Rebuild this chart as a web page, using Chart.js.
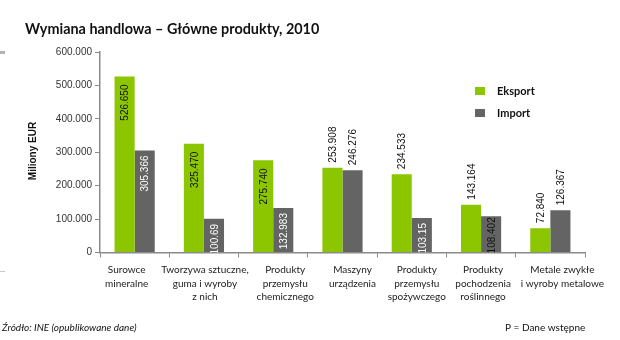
<!DOCTYPE html>
<html>
<head>
<meta charset="utf-8">
<script src="https://cdn.jsdelivr.net/npm/chart.js@4.4.1/dist/chart.umd.min.js"></script>
<style>
  html, body { margin: 0; padding: 0; background: #fff; }
  #wrap { position: relative; width: 620px; height: 340px; }
</style>
</head>
<body>
<div id="wrap"><canvas id="c" width="620" height="340"></canvas></div>
<script>
// categories, multi-line like the original
const categories = [
  ['Surowce', 'mineralne'],
  ['Tworzywa sztuczne,', 'guma i wyroby', 'z nich'],
  ['Produkty', 'przemysłu', 'chemicznego'],
  ['Maszyny', 'urządzenia'],
  ['Produkty', 'przemysłu', 'spożywczego'],
  ['Produkty', 'pochodzenia', 'roślinnego'],
  ['Metale zwykłe', 'i wyroby metalowe']
];
const eksport = [526650, 325470, 275740, 253908, 234533, 143164, 72840];
const importy = [305366, 100690, 132983, 246276, 103150, 108402, 126367];
// labels as shown in the picture (two are cut off by the axis there)
const eksportLabels = ['526.650', '325.470', '275.740', '253.908', '234.533', '143.164', '72.840'];
const importLabels  = ['305.366', '100.69', '132.983', '246.276', '103.15', '108.402', '126.367'];
const yTicks = [0, 100000, 200000, 300000, 400000, 500000, 600000];

// where each value label sits: inside end or outside end
const eksportPlace = ['in', 'in', 'in', 'out', 'out', 'out', 'out'];
const importPlace  = ['in', 'in', 'in', 'out', 'in', 'in', 'out'];
const importInColor = ['#fff', '#fff', '#fff', '#111', '#fff', '#111', '#111'];
const importInGap = [5, 5, 5, 0, 5, 1, 0];
// excel does not centre the wrapped category labels exactly
const catLabelShift = [-8, 1, 12, 10, 5, 2, 12];

const GREEN = '#8cc600';
const GRAY = '#646464';
const AXIS = '#8a8a8a';
const fmt = v => v === 0 ? '0' : String(v).replace(/\B(?=(\d{3})+(?!\d))/g, '.');

const valueLabels = {
  id: 'valueLabels',
  afterDatasetsDraw(chart) {
    const ctx = chart.ctx;
    const area = chart.chartArea;
    ctx.save();
    ctx.beginPath();
    ctx.rect(area.left, 0, area.right - area.left, area.bottom);
    ctx.clip();
    ctx.font = '10px "Liberation Sans", Arial, sans-serif';
    ctx.textBaseline = 'middle';
    chart.data.datasets.forEach((ds, di) => {
      const meta = chart.getDatasetMeta(di);
      meta.data.forEach((bar, i) => {
        const isExp = di === 0;
        const text = isExp ? eksportLabels[i] : importLabels[i];
        const place = isExp ? eksportPlace[i] : importPlace[i];
        ctx.save();
        if (place === 'in') {
          ctx.translate(bar.x, bar.y + (isExp ? 8 : importInGap[i]));
          ctx.rotate(-Math.PI / 2);
          ctx.textAlign = 'right';
          ctx.fillStyle = isExp ? '#111' : importInColor[i];
        } else {
          ctx.translate(bar.x, bar.y - 5);
          ctx.rotate(-Math.PI / 2);
          ctx.textAlign = 'left';
          ctx.fillStyle = '#111';
        }
        ctx.fillText(text, 0, 1);
        ctx.restore();
      });
    });
    ctx.restore();
  }
};

const decorations = {
  id: 'decorations',
  afterDraw(chart) {
    const ctx = chart.ctx;
    const xs = chart.scales.x;
    ctx.save();
    ctx.textBaseline = 'middle';

    // category labels
    ctx.textAlign = 'center';
    ctx.fillStyle = '#222';
    ctx.font = '10px Lato, "Open Sans", sans-serif';
    categories.forEach((lines, i) => {
      const cx = xs.getPixelForValue(i) + catLabelShift[i];
      lines.forEach((ln, k) => ctx.fillText(ln, cx, chart.chartArea.bottom + 17.5 + k * 13.3));
    });

    // title
    ctx.fillStyle = '#111';
    ctx.textAlign = 'left';
    ctx.font = 'bold 14.4px Lato, "Open Sans", sans-serif';
    ctx.fillText('Wymiana handlowa – Główne produkty, 2010', 25, 29);

    // y axis title
    ctx.save();
    ctx.translate(33, 151);
    ctx.rotate(-Math.PI / 2);
    ctx.textAlign = 'center';
    ctx.font = 'bold 10px "Liberation Sans", Arial, sans-serif';
    ctx.fillText('Miliony EUR', 0, 0);
    ctx.restore();

    // legend
    ctx.font = 'bold 11px Lato, "Open Sans", sans-serif';
    ctx.fillStyle = GREEN;
    ctx.fillRect(475, 87, 10, 8);
    ctx.fillStyle = GRAY;
    ctx.fillRect(475, 109, 10, 8);
    ctx.fillStyle = '#111';
    ctx.fillText('Eksport', 497, 91);
    ctx.fillText('Import', 497, 113);

    // footer
    ctx.font = 'italic 10px Lato, "Open Sans", sans-serif';
    ctx.fillText('Źródło: INE (opublikowane dane)', 2, 328);
    ctx.font = '10px Lato, "Open Sans", sans-serif';
    ctx.fillText('P = Dane wstępne', 505, 328);

    // small crop leftovers on the left edge of the original
    ctx.fillStyle = '#b4b4b4';
    ctx.fillRect(0, 51, 5, 3);
    ctx.fillStyle = '#c8c8c8';
    ctx.fillRect(0, 271, 5, 1);
    ctx.restore();
  }
};

new Chart(document.getElementById('c'), {
  type: 'bar',
  data: {
    labels: categories,
    datasets: [
      { label: 'Eksport', data: eksport, backgroundColor: GREEN, borderWidth: 0 },
      { label: 'Import', data: importy, backgroundColor: GRAY, borderWidth: 0 }
    ]
  },
  options: {
    responsive: false,
    animation: false,
    events: [],
    layout: { padding: { left: 0, top: 52, right: 35, bottom: 0 } },
    datasets: { bar: { categoryPercentage: 0.58, barPercentage: 1 } },
    plugins: { legend: { display: false }, tooltip: { enabled: false } },
    scales: {
      x: {
        offset: true,
        grid: { offset: true, drawOnChartArea: false, drawTicks: true, tickLength: 5, color: AXIS, lineWidth: 1 },
        border: { display: true, color: AXIS, width: 1.5 },
        ticks: { display: false },
        afterFit(scale) { scale.height = 87.5; }
      },
      y: {
        min: 0, max: 600000,
        afterBuildTicks(scale) { scale.ticks = yTicks.map(v => ({ value: v })); },
        grid: { drawOnChartArea: false, drawTicks: true, tickLength: 5, color: AXIS, lineWidth: 1 },
        border: { display: true, color: AXIS, width: 1.5 },
        ticks: {
          padding: 3, color: '#333',
          font: { family: '"Liberation Sans", Arial, sans-serif', size: 10 },
          callback: v => fmt(v)
        },
        afterFit(scale) { scale.width = 100; }
      }
    }
  },
  plugins: [valueLabels, decorations]
});
</script>
</body>
</html>
